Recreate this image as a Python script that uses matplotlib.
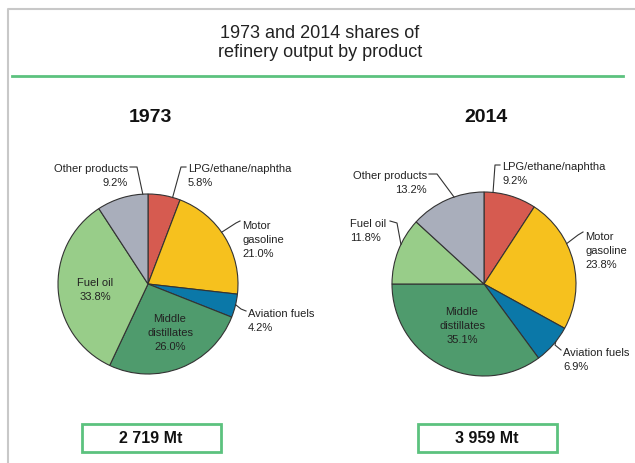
import numpy as np
import matplotlib.pyplot as plt
from matplotlib.patches import Rectangle

plt.rcParams['font.family'] = ['Liberation Sans Narrow', 'Liberation Sans', 'DejaVu Sans']

products = ['LPG/ethane/naphtha', 'Motor\ngasoline', 'Aviation fuels',
            'Middle\ndistillates', 'Fuel oil', 'Other products']
colors = ['#d65b50', '#f6c11e', '#0b78a8', '#4f9b6d', '#98cd89', '#a9aebb']
share_1973 = [5.8, 21.0, 4.2, 26.0, 33.8, 9.2]
share_2014 = [9.2, 23.8, 6.9, 35.1, 11.8, 13.2]
years = ['1973', '2014']
totals = ['2 719 Mt', '3 959 Mt']

W, H = 635, 464


def Y(y):
    # pixel row -> data y
    return H - y


# label layout per pie: index -> (x, y, ha, inside, leader start, elbow, fraction of wedge)
layout_1973 = {
    0: (188, 176, 'left', False, (186, 168), (181, 168), 0.76),
    1: (242, 240, 'left', False, (240, 222), (236, 224), 0.45),
    2: (248, 321, 'left', False, (246, 312), (241, 310), 0.45),
    3: (170, 333, 'center', True, None, None, None),
    4: (95, 290, 'center', True, None, None, None),
    5: (128, 176, 'right', False, (130, 168), (137, 168), 0.9),
}
layout_2014 = {
    0: (502, 174, 'left', False, (500, 166), (495, 166), 0.17),
    1: (585, 251, 'left', False, (583, 233), (578, 236), 0.36),
    2: (563, 360, 'left', False, (561, 351), (555, 346), 0.4),
    3: (462, 326, 'center', True, None, None, None),
    4: (350, 231, 'left', False, (390, 222), (397, 224), 0.6),
    5: (427, 183, 'right', False, (429, 175), (437, 175), 0.6),
}

fig = plt.figure(figsize=(6.35, 4.64), dpi=100)
ax = fig.add_axes([0, 0, 1, 1])
ax.set_xlim(0, W)
ax.set_ylim(0, H)
ax.axis('off')

# frame and header
ax.plot([8, 8, W], [Y(H), Y(10), Y(10)], color='#c8c8c8', lw=1.5)
ax.plot([12, 623], [Y(77), Y(77)], color='#5cc27e', lw=2)
ax.text(320, Y(43), '1973 and 2014 shares of\nrefinery output by product',
        ha='center', va='center', fontsize=13, color='#222222', linespacing=1.2)

pies = [(148, 285, 90, share_1973, layout_1973),
        (484, 285, 92, share_2014, layout_2014)]

for k, (cx, cy, r, shares, layout) in enumerate(pies):
    ax.pie(shares, colors=colors, startangle=90, counterclock=False,
           center=(cx, Y(cy)), radius=r, frame=True,
           wedgeprops=dict(edgecolor='#333333', linewidth=0.8))
    ax.text(cx + 2, Y(117), years[k], ha='center', va='center',
            fontsize=14, fontweight='bold', color='#111111')
    # total box
    ax.add_patch(Rectangle((cx - 66, Y(453)), 139, 28, facecolor='white',
                           edgecolor='#5cc27e', lw=2))
    ax.text(cx + 3, Y(439), totals[k], ha='center', va='center',
            fontsize=11.5, fontweight='bold', color='#111111')

    cum = np.concatenate([[0], np.cumsum(shares)]) / 100.0 * 360
    for i, name in enumerate(products):
        tx, ty, ha, inside, start, elbow, frac = layout[i]
        label = f'{name}\n{shares[i]:.1f}%'
        ax.text(tx, Y(ty), label, ha=ha, va='center', fontsize=8,
                multialignment=ha if ha != 'center' else 'center',
                color='#222222', linespacing=1.5)
        if inside:
            continue
        ang = np.deg2rad(cum[i] + frac * (cum[i + 1] - cum[i]))
        ex = cx + r * np.sin(ang)
        ey = cy - r * np.cos(ang)
        ax.plot([start[0], elbow[0], ex], [Y(start[1]), Y(elbow[1]), Y(ey)],
                color='#333333', lw=0.8)

ax.set_xlim(0, W)
ax.set_ylim(0, H)
ax.set_aspect('equal')
ax.axis('off')

fig.savefig('out.png', dpi=100)
